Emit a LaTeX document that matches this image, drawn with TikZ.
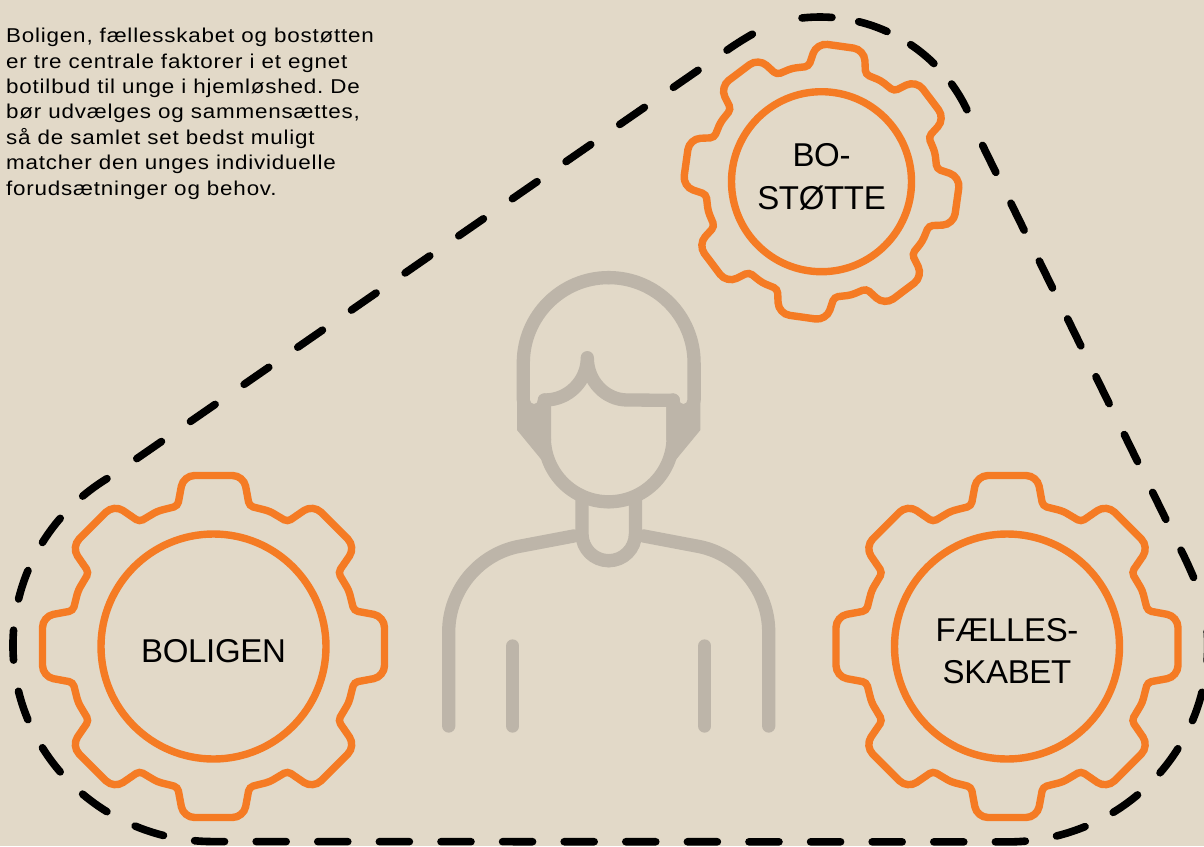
\documentclass[tikz,border=0pt]{standalone}
\usepackage{fontspec}
\setmainfont{Liberation Sans}
\newfontfamily\introfont[FakeStretch=1.12,LetterSpace=4]{Liberation Sans}
\newfontfamily\gearfont[LetterSpace=-1]{Liberation Sans}
\definecolor{paper}{HTML}{E2D9C8}
\definecolor{gearorange}{HTML}{F57B24}
\definecolor{persongrey}{HTML}{BDB5A9}
\newcommand{\gearwheel}[3]{%
  \draw[gearline,shift={(#1)},rotate=#3,scale=#2] (0:171)
    [rounded corners=11pt] -- (10:173.6)
    [rounded corners=4pt] -- (14.3:145) -- (22.5:146.5)
    \foreach \a in {45,90,...,315} {
      -- (\a-14.3:145) [rounded corners=11pt] -- (\a-10:173.6) -- (\a+10:173.6)
      [rounded corners=4pt] -- (\a+14.3:145) -- (\a+22.5:146.5)
    } -- (-14.3:145) [rounded corners=11pt] -- (-10:173.6) -- cycle;
  \draw[gearline] (#1) circle[radius=112.5*#2];
}
\begin{document}
\begin{tikzpicture}[
    x=1pt,y=-1pt,
    gearline/.style={draw=gearorange,line width=7.4pt},
    gearlabel/.style={font=\gearfont\fontsize{33}{42.4}\selectfont,align=center,inner sep=0pt},
    bodytext/.style={font=\introfont\fontsize{20}{25.4}\selectfont\frenchspacing,align=left,inner sep=0pt,anchor=north west},
    personline/.style={draw=persongrey,line width=13.3pt,line cap=round,line join=round},
    dashline/.style={draw=black,line width=7.6pt,line cap=round,dash pattern=on 30pt off #1}]

\fill[paper] (0,0) rectangle (1204,846);
\useasboundingbox (0,0) rectangle (1204,846);

\coordinate (boligenc) at (213.5,646.5);
\coordinate (stoettec) at (821.5,181.7);
\coordinate (faellesc) at (1007,646.5);

% dashed outline, side by side
\draw[dashline=31.6pt] (107,478.6) arc[start angle=238,end angle=90,x radius=200,y radius=196.4]
    -- (1007.7,841.9) arc[start angle=90,end angle=-6,x radius=200,y radius=196.4];
\draw[dashline=35.25pt] (136.8,458.6) -- (723,53)
    .. controls (735,44.5) and (748,36) .. (764,28);
\draw[dashline=27.1pt] (802,18) arc[start angle=263.7,end angle=337.1,radius=163];
\draw[dashline=34.4pt] (982.6,145.4) -- (1181,550.2)
    .. controls (1186,560) and (1190,569) .. (1196,583);

% person
\foreach \s in {1,-1} {
  \begin{scope}[shift={(608.7,0)},xscale=\s]
    \fill[persongrey] (-91.7,400) -- (-91.7,430) -- (-67,460) -- (-57.7,440)
        -- (-57.7,400) -- (-70.7,400) arc[start angle=0,end angle=180,radius=4] -- cycle;
    \draw[personline] (-85.4,400) -- (-85.4,363) arc[start angle=180,end angle=270,radius=85.4];
    \draw[personline] (-64.4,400) -- (-64.4,437.4) arc[start angle=180,end angle=90,radius=64.4];
    \draw[personline] (-26.7,500) -- (-26.7,534) arc[start angle=180,end angle=90,radius=26.7];
    \draw[personline] (-160,726) -- (-160,632)
        .. controls (-160,590) and (-130,555) .. (-91.4,546.7) -- (-35,536);
    \draw[personline] (-96,646) -- (-96,726);
  \end{scope}
}
\draw[personline] (545,400) arc[start angle=90,end angle=0,radius=42.3]
    arc[start angle=180,end angle=90,x radius=40,y radius=42.3] -- (673.3,400.3);

% gears
\gearwheel{boligenc}{1}{0}
\gearwheel{stoettec}{0.8}{-8}
\gearwheel{faellesc}{1}{0}

\node[gearlabel] (boligen) at (213.5,650.8) {BOLIGEN};
\node[gearlabel] (stoette) at (821.5,177) {BO-\\STØTTE};
\node[gearlabel] (faelles) at (1007,651) {FÆLLES-\\SKABET};

\node[bodytext] (intro) at (6,28) {Boligen, fællesskabet og bostøtten\\
er tre centrale faktorer i et egnet\\
botilbud til unge i hjemløshed. De\\
bør udvælges og sammensættes,\\
så de samlet set bedst muligt\\
matcher den unges individuelle\\
forudsætninger og behov.};

\end{tikzpicture}
\end{document}
